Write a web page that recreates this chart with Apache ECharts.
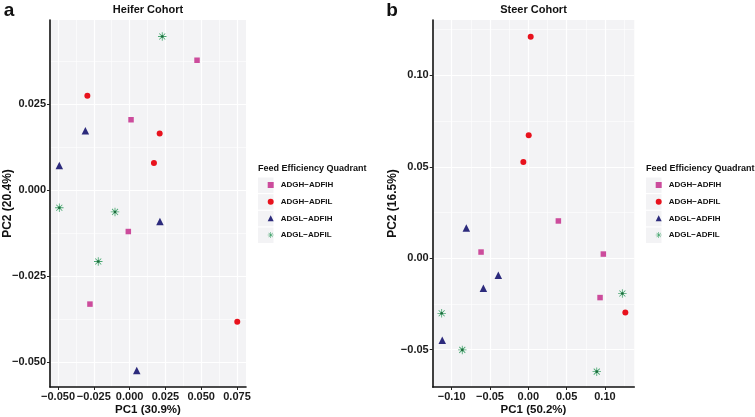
<!DOCTYPE html>
<html><head><meta charset="utf-8">
<script src="https://cdn.jsdelivr.net/npm/echarts@6/dist/echarts.min.js"></script>
<style>html,body{margin:0;padding:0;background:#fff}#c{width:755px;height:417px}</style>
</head><body><div id="c"></div>
<script>
const groups = ['ADGH\u2212ADFIH','ADGH\u2212ADFIL','ADGL\u2212ADFIH','ADGL\u2212ADFIL'];
// Heifer cohort [PC1, PC2]
const heiferADGH_ADFIH = [[0.0471,0.0377],[0.0010,0.0204],[-0.0009,-0.0121],[-0.0277,-0.0332]];
const heiferADGH_ADFIL = [[-0.0295,0.0274],[0.0210,0.0164],[0.0170,0.0078],[0.0752,-0.0383]];
const heiferADGL_ADFIH = [[-0.0309,0.0172],[-0.0491,0.0071],[0.0212,-0.0092],[0.0050,-0.0525]];
const heiferADGL_ADFIL = [[0.0228,0.0446],[-0.0491,-0.0052],[-0.0102,-0.0064],[-0.0219,-0.0208]];
// Steer cohort [PC1, PC2]
const steerADGH_ADFIH = [[0.0392,0.0204],[-0.0617,0.0034],[0.0979,0.0023],[0.0936,-0.0215]];
const steerADGH_ADFIL = [[0.0031,0.1212],[0.0005,0.0673],[-0.0065,0.0527],[0.1266,-0.0297]];
const steerADGL_ADFIH = [[-0.0809,0.0166],[-0.0392,-0.0093],[-0.0587,-0.0164],[-0.1123,-0.0448]];
const steerADGL_ADFIL = [[-0.1131,-0.0301],[-0.0862,-0.0501],[0.0893,-0.0620],[0.1227,-0.0193]];
// ticks
const heiferXTicks = [-0.05,-0.025,0,0.025,0.05,0.075];
const heiferXMinor = [-0.0375,-0.0125,0.0125,0.0375,0.0625];
const heiferYTicks = [-0.05,-0.025,0,0.025];
const heiferYMinor = [-0.0375,-0.0125,0.0125,0.0375];
const steerXTicks = [-0.1,-0.05,0,0.05,0.1];
const steerXMinor = [-0.075,-0.025,0.025,0.075,0.125];
const steerYTicks = [-0.05,0,0.05,0.1];
const steerYMinor = [-0.025,0.025,0.075,0.125];
const heiferRange = {x:[-0.0556,0.0813], y:[-0.0573,0.0494]};
const steerRange = {x:[-0.1248,0.1383], y:[-0.0704,0.1303]};

const FONT = '"Liberation Sans", Arial, sans-serif';
const colors = ['#cc4c9c','#e8121d','#2c2a7c','#4aa872'];
const star = 'path://M-0.5,-5L0.5,-5L0.5,5L-0.5,5Z M-5,-0.5L5,-0.5L5,0.5L-5,0.5Z M-3.89,-3.19L3.19,3.89L3.89,3.19L-3.19,-3.89Z M3.89,-3.19L-3.19,3.89L-3.89,3.19L3.19,-3.89Z';
const symbols = ['rect','circle','triangle',star];
const sizes = [5.5,6,7.5,8.5];

function fmt(d){ return v => v.toFixed(d).replace('-', '\u2212'); }

function majorAxis(dim, grid, range, ticks, dec, name, gap){
  return {
    type:'value', gridIndex:grid, min:range[0], max:range[1],
    position: dim==='x' ? 'bottom' : 'left',
    name:name, nameLocation:'middle', nameGap:gap, nameMoveOverlap:false,
    nameRotate: dim==='x' ? 0 : 90,
    nameTextStyle:{fontFamily:FONT, fontWeight:'bold', fontSize: dim==='x'?11.5:12, color:'#111'},
    axisLine:{show:true, onZero:false, lineStyle:{color:'#111', width:1.6}},
    axisTick:{show:true, length:3, customValues:ticks, lineStyle:{color:'#222', width:1}},
    axisLabel:{customValues:ticks, formatter:fmt(dec), fontFamily:FONT, fontWeight:'bold', fontSize:11, color:'#1a1a1a', margin:4},
    splitLine:{show:true, lineStyle:{color:'#ffffff', width:1.2}},
    minorSplitLine:{show:false}
  };
}
function minorAxis(dim, grid, range, minor){
  return {
    type:'value', gridIndex:grid, min:range[0], max:range[1],
    position: dim==='x' ? 'top' : 'right',
    axisLine:{show:false, onZero:false},
    axisTick:{show:false, customValues:minor},
    axisLabel:{show:false, customValues:minor},
    splitLine:{show:true, lineStyle:{color:'#ffffff', width:0.6}}
  };
}

const heiferData = [heiferADGH_ADFIH, heiferADGH_ADFIL, heiferADGL_ADFIH, heiferADGL_ADFIL];
const steerData = [steerADGH_ADFIH, steerADGH_ADFIL, steerADGL_ADFIH, steerADGL_ADFIL];

const series = [];
[heiferData, steerData].forEach((set, p) => {
  set.forEach((d, i) => {
    series.push({
      type:'scatter', name:groups[i], xAxisIndex:p*2, yAxisIndex:p*2, data:d,
      symbol:symbols[i], symbolSize:sizes[i],
      itemStyle:{color:colors[i], opacity:1}, z:3
    });
    if (i === 3) {
      series.push({
        type:'scatter', name:'centre'+p, xAxisIndex:p*2, yAxisIndex:p*2, data:d,
        symbol:'circle', symbolSize:2.6, itemStyle:{color:'#1d6b3c', opacity:1}, z:4, silent:true
      });
    }
  });
});

const graphics = [];
function txt(x,y,t,font,align){ graphics.push({type:'text', x:x, y:y, z:5, style:{text:t, font:font, fill:'#111', textAlign:align||'left', textVerticalAlign:'middle'}}); }
txt(148,10,'Heifer Cohort','bold 11px '+FONT,'center');
txt(533.5,10,'Steer Cohort','bold 11px '+FONT,'center');
txt(9,11,'a','bold 19px '+FONT,'center');
txt(392,11,'b','bold 19px '+FONT,'center');
txt(258,168.5,'Feed Efficiency Quadrant','bold 9px '+FONT,'left');
txt(646,168.5,'Feed Efficiency Quadrant','bold 9px '+FONT,'left');
[258, 646].forEach(lx => {
  for (let k=0;k<4;k++){
    graphics.push({type:'rect', z:1, shape:{x:lx, y:177.5+k*16.67, width:15.5, height:15.5}, style:{fill:'#f3f3f5'}});
  }
});

const legendBase = {
  data:groups, orient:'vertical', top:176, itemWidth:6, itemHeight:6, itemGap:8.67,
  textStyle:{fontFamily:FONT, fontWeight:'bold', fontSize:8, color:'#111', padding:[0,0,0,2]}, selectedMode:false, z:6
};

const option = {
  backgroundColor:'#ffffff',
  animation:false,
  grid:[
    {left:50, top:20, width:196, height:367, show:true, backgroundColor:'#f3f3f5', borderWidth:0, containLabel:false, outerBoundsMode:'none'},
    {left:432.7, top:20, width:201.6, height:367, show:true, backgroundColor:'#f3f3f5', borderWidth:0, containLabel:false, outerBoundsMode:'none'}
  ],
  xAxis:[
    majorAxis('x',0,heiferRange.x,heiferXTicks,3,'PC1 (30.9%)',17),
    minorAxis('x',0,heiferRange.x,heiferXMinor),
    majorAxis('x',1,steerRange.x,steerXTicks,2,'PC1 (50.2%)',17),
    minorAxis('x',1,steerRange.x,steerXMinor)
  ],
  yAxis:[
    majorAxis('y',0,heiferRange.y,heiferYTicks,3,'PC2 (20.4%)',36),
    minorAxis('y',0,heiferRange.y,heiferYMinor),
    majorAxis('y',1,steerRange.y,steerYTicks,2,'PC2 (16.5%)',34),
    minorAxis('y',1,steerRange.y,steerYMinor)
  ],
  legend:[Object.assign({left:262.7}, legendBase), Object.assign({left:650.7}, legendBase)],
  graphic:graphics,
  series:series
};
const chart = echarts.init(document.getElementById('c'), null, {renderer:'canvas'});
chart.setOption(option);
</script></body></html>
